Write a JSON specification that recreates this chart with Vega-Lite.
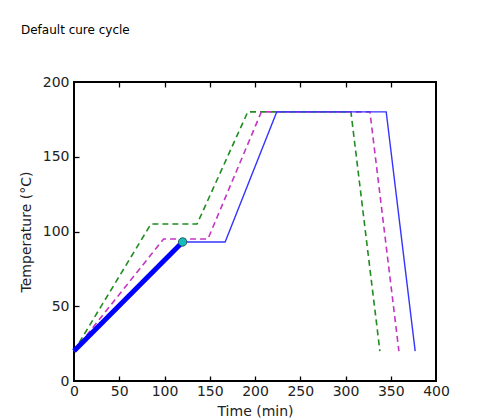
{
  "$schema": "https://vega.github.io/schema/vega-lite/v6.json",
  "autosize": "none",
  "width": 362,
  "height": 299,
  "padding": {"left": 74, "top": 82, "right": 47, "bottom": 38},
  "background": "white",
  "title": {
    "text": "Default cure cycle",
    "anchor": "start",
    "frame": "group",
    "font": "DejaVu Sans",
    "fontSize": 12,
    "fontWeight": "normal",
    "color": "#000000",
    "dx": -53,
    "offset": 38
  },
  "config": {
    "view": {"stroke": "#000000", "strokeWidth": 2},
    "axis": {
      "grid": false,
      "domain": false,
      "labelFlush": false,
      "labelOverlap": false,
      "labelFont": "DejaVu Sans",
      "labelFontSize": 14,
      "labelColor": "#222222",
      "titleFont": "DejaVu Sans",
      "titleFontSize": 14,
      "titleFontWeight": "normal",
      "titleColor": "#222222"
    }
  },
  "datasets": {
    "cycles": [
      {"series": "green", "t": 0, "temp": 20},
      {"series": "green", "t": 85, "temp": 105},
      {"series": "green", "t": 136, "temp": 105},
      {"series": "green", "t": 192, "temp": 180},
      {"series": "green", "t": 306, "temp": 180},
      {"series": "green", "t": 338, "temp": 20},
      {"series": "magenta", "t": 0, "temp": 20},
      {"series": "magenta", "t": 99, "temp": 95},
      {"series": "magenta", "t": 148, "temp": 95},
      {"series": "magenta", "t": 207, "temp": 180},
      {"series": "magenta", "t": 327, "temp": 180},
      {"series": "magenta", "t": 359, "temp": 20},
      {"series": "blue", "t": 0, "temp": 20},
      {"series": "blue", "t": 120, "temp": 93},
      {"series": "blue", "t": 167, "temp": 93},
      {"series": "blue", "t": 224, "temp": 180},
      {"series": "blue", "t": 345, "temp": 180},
      {"series": "blue", "t": 377, "temp": 20}
    ],
    "progress": [
      {"t": 0, "temp": 20},
      {"t": 120, "temp": 93}
    ],
    "current": [
      {"t": 120, "temp": 93}
    ]
  },
  "layer": [
    {
      "layer": [
        {
          "data": {"name": "cycles"},
          "transform": [{"filter": "datum.series === 'green'"}],
          "mark": {"type": "line", "color": "#1f8c1f", "strokeWidth": 1.6, "strokeDash": [6, 4]},
          "encoding": {
            "x": {"field": "t", "type": "quantitative"},
            "y": {"field": "temp", "type": "quantitative"}
          }
        },
        {
          "data": {"name": "cycles"},
          "transform": [{"filter": "datum.series === 'magenta'"}],
          "mark": {"type": "line", "color": "#c435c4", "strokeWidth": 1.6, "strokeDash": [6, 4]},
          "encoding": {
            "x": {"field": "t", "type": "quantitative"},
            "y": {"field": "temp", "type": "quantitative"}
          }
        },
        {
          "data": {"name": "cycles"},
          "transform": [{"filter": "datum.series === 'blue'"}],
          "mark": {"type": "line", "color": "#3535ff", "strokeWidth": 1.4},
          "encoding": {
            "x": {"field": "t", "type": "quantitative"},
            "y": {"field": "temp", "type": "quantitative"}
          }
        },
        {
          "data": {"name": "progress"},
          "mark": {"type": "line", "color": "#0000ff", "strokeWidth": 5},
          "encoding": {
            "x": {"field": "t", "type": "quantitative"},
            "y": {"field": "temp", "type": "quantitative"}
          }
        },
        {
          "data": {"name": "current"},
          "mark": {"type": "point", "filled": true, "fill": "#13bdbd", "stroke": "#2a5a5a", "strokeWidth": 1, "size": 70, "opacity": 1},
          "encoding": {
            "x": {"field": "t", "type": "quantitative",
              "scale": {"domain": [0, 400], "nice": false, "zero": false},
              "axis": {"orient": "bottom", "values": [0, 50, 100, 150, 200, 250, 300, 350, 400], "ticks": false, "title": "Time (min)", "labelPadding": 3, "titlePadding": 6}},
            "y": {"field": "temp", "type": "quantitative",
              "scale": {"domain": [0, 200], "nice": false, "zero": false},
              "axis": {"orient": "left", "values": [0, 50, 100, 150, 200], "ticks": false, "title": "Temperature (°C)", "labelPadding": 5, "titlePadding": 9}}
          }
        }
      ]
    },
    {
      "data": {"name": "current"},
      "mark": {"type": "point", "opacity": 0},
      "encoding": {
        "x": {"field": "t", "type": "quantitative",
          "scale": {"domain": [0, 400], "nice": false, "zero": false},
          "axis": {"orient": "bottom", "offset": -5, "ticks": true, "tickSize": 5, "tickWidth": 1.3, "tickColor": "#000000", "tickOpacity": 1, "values": [50, 100, 150, 200, 250, 300, 350], "labels": false, "title": null, "zindex": 1}},
        "y": {"field": "temp", "type": "quantitative",
          "scale": {"domain": [0, 200], "nice": false, "zero": false},
          "axis": {"orient": "left", "offset": -5, "ticks": true, "tickSize": 5, "tickWidth": 1.3, "tickColor": "#000000", "tickOpacity": 1, "values": [50, 100, 150], "labels": false, "title": null, "zindex": 1}}
      }
    },
    {
      "data": {"name": "current"},
      "mark": {"type": "point", "opacity": 0},
      "encoding": {
        "x": {"field": "t", "type": "quantitative",
          "scale": {"domain": [0, 400], "nice": false, "zero": false},
          "axis": {"orient": "top", "offset": -5, "ticks": true, "tickSize": 5, "tickWidth": 1.3, "tickColor": "#000000", "tickOpacity": 1, "values": [50, 100, 150, 200, 250, 300, 350], "labels": false, "title": null, "zindex": 1}},
        "y": {"field": "temp", "type": "quantitative",
          "scale": {"domain": [0, 200], "nice": false, "zero": false},
          "axis": null}
      }
    }
  ],
  "resolve": {"scale": {"x": "independent", "y": "independent"}}
}
